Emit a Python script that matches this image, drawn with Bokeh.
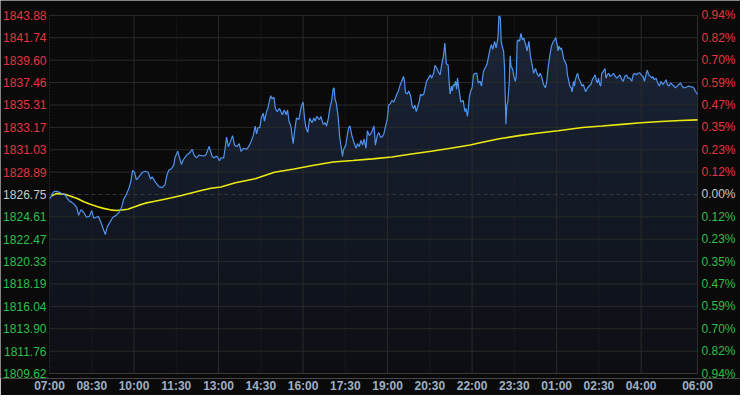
import numpy as np
from bokeh.plotting import figure
from bokeh.models import Range1d, FixedTicker, ColumnDataSource
from bokeh.core.properties import value
from bokeh.embed import file_html
from bokeh.resources import INLINE

prev_close = 1826.75
price_levels = [1843.88, 1841.74, 1839.60, 1837.46, 1835.31, 1833.17, 1831.03, 1828.89, 1826.75,
                1824.61, 1822.47, 1820.33, 1818.19, 1816.04, 1813.90, 1811.76, 1809.62]
price_labels = ["1843.88", "1841.74", "1839.60", "1837.46", "1835.31", "1833.17", "1831.03", "1828.89",
                "1826.75", "1824.61", "1822.47", "1820.33", "1818.19", "1816.04", "1813.90", "1811.76", "1809.62"]
pct_labels = ["0.94%", "0.82%", "0.70%", "0.59%", "0.47%", "0.35%", "0.23%", "0.12%", "0.00%",
              "0.12%", "0.23%", "0.35%", "0.47%", "0.59%", "0.70%", "0.82%", "0.94%"]
time_ticks = [0, 90, 180, 270, 360, 450, 540, 630, 720, 810, 900, 990, 1080, 1170, 1260, 1380]
time_labels = ["07:00", "08:30", "10:00", "11:30", "13:00", "14:30", "16:00", "17:30", "19:00",
               "20:30", "22:00", "23:30", "01:00", "02:30", "04:00", "06:00"]

# minutes after 07:00
minutes = [0, 2, 6, 10, 17, 21, 25, 31, 35, 42, 46, 52, 58, 62, 67, 73, 79, 85, 90, 94, 100, 104, 110, 115,
           119, 123, 129, 135, 142, 148, 154, 158, 162, 169, 173, 177, 181, 185, 190, 198, 204, 210, 215,
           219, 225, 233, 240, 246, 250, 254, 260, 265, 267, 273, 277, 281, 285, 292, 298, 304, 308, 313,
           319, 327, 333, 340, 346, 350, 356, 362,
           365, 371, 374, 377, 381, 385, 390, 394, 399, 404, 408, 413, 420, 424, 429, 434, 438, 441, 444,
           448, 451, 455, 458, 462, 465, 471, 474, 478, 481, 485, 490, 493, 496, 500, 504, 507, 510, 514,
           517, 519, 522, 526, 531, 536, 540, 543, 546, 550, 554, 559, 563, 566, 569, 575, 578, 583, 587,
           590, 594, 597, 601, 604, 606, 608, 611, 615, 618, 621, 624, 626, 631, 634, 637, 640, 644, 649,
           653, 656, 660, 663, 667, 670, 674, 677, 681, 686, 691, 694, 698, 701, 705,
           708, 712, 715, 719, 721, 722, 726, 729, 733, 736, 740, 743, 746, 750, 754, 756, 758, 762, 765,
           769, 772, 775, 778, 781, 785, 788, 790, 793, 797, 800, 803, 807, 811, 814, 818, 821, 825, 828,
           832, 835, 839, 842, 845, 849, 851, 853, 856, 858, 860, 862, 865, 867, 869, 871, 874, 876, 881,
           883, 885, 887, 890, 892, 894, 897, 900, 903, 906, 910, 913, 917, 920, 924, 927, 931, 934, 938,
           941, 944, 948, 951, 955, 957, 960, 962, 964, 967, 969, 971, 972, 974, 976, 979, 981, 983, 986,
           989, 992, 994, 996, 998, 1001, 1004, 1007, 1010, 1014, 1017, 1021, 1024, 1028, 1031, 1035, 1038,
           1042, 1045, 1049,
           1052, 1056, 1059, 1062, 1066, 1069, 1073, 1076, 1078, 1081, 1083, 1085, 1088, 1090, 1092, 1095,
           1097, 1101, 1103, 1106, 1108, 1111, 1113, 1116, 1118, 1120, 1123, 1125, 1127, 1130, 1134, 1137,
           1139, 1142, 1146, 1149, 1153, 1156, 1160, 1162, 1165, 1167, 1169, 1172, 1174, 1176, 1179, 1181,
           1183, 1185, 1188, 1191, 1194, 1198, 1201, 1205, 1208, 1212, 1215, 1219, 1222, 1225, 1229, 1232,
           1236, 1240, 1243, 1246, 1250, 1253, 1257, 1260, 1264, 1267, 1271, 1273, 1276, 1280, 1283, 1285,
           1288, 1292, 1295, 1299, 1302, 1306, 1309, 1313, 1316, 1319, 1323, 1326, 1330, 1333, 1337, 1340,
           1344, 1347, 1351, 1354, 1358, 1361, 1365, 1368, 1372, 1375, 1379, 1380]

price = [1826.45, 1826.40, 1826.86, 1827.04, 1827.04, 1826.95, 1826.86, 1826.77, 1826.59, 1826.13, 1826.04,
         1825.85, 1825.49, 1824.75, 1825.30, 1825.03, 1824.57, 1824.66, 1825.21, 1824.48, 1824.57, 1824.66,
         1824.02, 1823.38, 1822.92, 1823.65, 1824.11, 1824.57, 1824.75, 1825.03, 1825.58, 1826.31, 1826.59,
         1827.32, 1827.96, 1829.06, 1828.88, 1828.14, 1828.42, 1828.88, 1828.97, 1828.88, 1828.23, 1828.42,
         1827.96, 1827.50, 1827.41, 1827.68, 1828.60, 1829.06, 1829.24, 1829.61, 1830.25, 1830.89, 1830.25,
         1829.61, 1830.07, 1830.52, 1830.71, 1831.07, 1830.52, 1830.25, 1830.52, 1830.43, 1830.52, 1831.35,
         1830.43, 1830.25, 1830.43, 1829.97,
         1830.25, 1830.25, 1831.17, 1832.24, 1831.32, 1831.78, 1832.38, 1831.47, 1831.32, 1831.62, 1830.86,
         1831.17, 1831.07, 1831.32, 1831.78, 1832.38, 1833.30, 1832.54, 1833.15, 1833.15, 1834.07, 1834.53,
         1833.76, 1834.67, 1834.98, 1836.20, 1835.90, 1836.05, 1834.98, 1834.67, 1834.98, 1834.67, 1834.37,
         1834.83, 1834.37, 1834.83, 1833.76, 1833.30, 1832.24, 1831.62, 1832.84, 1834.07, 1833.91, 1835.13,
         1835.59, 1834.07, 1833.15, 1832.69, 1834.07, 1833.61, 1834.07, 1833.76, 1834.22, 1833.91, 1834.22,
         1833.46, 1833.61, 1833.30, 1834.07, 1834.98, 1835.75, 1836.82, 1836.96, 1835.90, 1835.44, 1834.07,
         1832.24, 1831.32, 1830.40, 1831.01, 1831.47, 1832.38, 1833.15, 1833.30, 1832.38, 1831.62, 1831.17,
         1831.62, 1831.32, 1831.93, 1831.47, 1832.08, 1831.17, 1832.84, 1832.38, 1832.69, 1833.30, 1831.47,
         1832.38, 1832.69, 1832.24,
         1832.24, 1832.54, 1833.15, 1833.91, 1834.67, 1835.29, 1835.44, 1835.75, 1835.59, 1835.90, 1836.36,
         1836.66, 1837.12, 1837.58, 1838.04, 1837.58, 1836.51, 1836.36, 1836.66, 1836.20, 1835.29, 1834.98,
         1835.29, 1834.67, 1835.29, 1835.75, 1836.36, 1836.20, 1836.36, 1836.96, 1837.58, 1837.88, 1838.19,
         1837.88, 1838.34, 1839.11, 1838.80, 1838.49, 1838.19, 1839.11, 1840.02, 1841.24, 1839.25, 1839.11,
         1837.58, 1836.36, 1837.12, 1836.66, 1837.27, 1837.12, 1837.58, 1836.82, 1837.88, 1837.12, 1836.20,
         1835.59, 1835.75, 1835.13, 1834.67, 1834.98, 1834.22, 1834.98, 1836.05, 1836.66, 1836.96, 1838.19,
         1838.34, 1838.34, 1837.42, 1837.58, 1837.12, 1838.49, 1838.80, 1839.11, 1839.71, 1840.63, 1841.09,
         1840.63, 1841.40, 1840.78, 1841.70, 1843.83, 1843.69, 1841.40, 1840.94, 1840.48, 1838.95, 1835.29,
         1833.46, 1835.29, 1835.59, 1837.42, 1840.02, 1838.95, 1838.80, 1838.04, 1837.58, 1838.04, 1841.40,
         1841.54, 1841.40, 1842.16, 1841.54, 1841.70, 1841.09, 1840.48, 1841.40, 1840.02, 1839.11, 1838.34,
         1838.80, 1838.34, 1838.04, 1838.34, 1837.88,
         1837.27, 1836.96, 1837.58, 1838.95, 1840.17, 1840.94, 1841.40, 1841.54, 1841.76, 1841.09, 1840.48,
         1840.94, 1840.63, 1840.78, 1840.48, 1839.71, 1839.55, 1839.11, 1838.19, 1837.58, 1837.12, 1836.96,
         1836.57, 1837.58, 1837.12, 1837.73, 1838.19, 1838.34, 1837.88, 1837.58, 1837.12, 1837.27, 1836.96,
         1836.57, 1836.96, 1837.12, 1837.27, 1837.73, 1838.04, 1838.19, 1837.58, 1837.42, 1837.88, 1837.27,
         1837.12, 1838.34, 1838.49, 1838.65, 1838.80, 1837.88, 1838.19, 1838.34, 1838.04, 1838.19, 1838.34,
         1838.04, 1837.88, 1838.04, 1838.19, 1837.73, 1837.58, 1838.04, 1838.19, 1837.88, 1837.88, 1837.58,
         1838.19, 1838.34, 1838.19, 1838.34, 1838.40, 1838.19, 1838.04, 1837.58, 1838.34, 1838.65, 1838.19,
         1838.04, 1837.88, 1838.04, 1837.73, 1837.88, 1837.42, 1837.12, 1837.58, 1837.27, 1837.42, 1837.73,
         1837.27, 1837.12, 1837.42, 1837.27, 1837.12, 1836.96, 1837.12, 1837.27, 1837.42, 1837.12, 1836.96,
         1836.96, 1837.05, 1837.12, 1837.05, 1837.05, 1836.96, 1836.66, 1836.41, 1836.32]

avg_minutes = [4, 14, 24, 35, 45, 59, 73, 87, 101, 115, 129, 142, 154, 167, 177, 191, 204, 219, 240, 260,
               281, 302, 323, 344, 365, 396, 438, 479, 521, 563, 604, 646, 688, 729, 771, 813, 854, 896,
               917, 958, 1000, 1042, 1083, 1135, 1177, 1219, 1260, 1302, 1344, 1380]
avg_price = [1826.59, 1826.83, 1826.81, 1826.74, 1826.59, 1826.37, 1826.06, 1825.82, 1825.60, 1825.42,
             1825.28, 1825.21, 1825.26, 1825.33, 1825.51, 1825.73, 1825.92, 1826.06, 1826.25, 1826.43,
             1826.65, 1826.89, 1827.13, 1827.35, 1827.47, 1827.87, 1828.26, 1828.88, 1829.18, 1829.54,
             1829.86, 1830.00, 1830.16, 1830.34, 1830.62, 1830.89, 1831.17, 1831.49, 1831.69, 1832.08,
             1832.38, 1832.63, 1832.84, 1833.15, 1833.30, 1833.46, 1833.61, 1833.73, 1833.82, 1833.89]

BG = "#0a0a0a"
GRID = "#2a2a2a"
RED = "#e8343f"
GREEN = "#2fbf4a"
NEUTRAL = "#c8c8c8"
FONT = "Liberation Sans"

# layout (figure pixels): the frame fills the figure above the time axis;
# the chart area sits inside it so that the price labels can be drawn beside it
W, H, AXIS_H = 740, 395, 15
AREA_L, AREA_R, AREA_T, AREA_B = 49, 697, 15, 375
frame_h = H - AXIS_H

y_lo, y_hi = min(price_levels), max(price_levels)
x_lo, x_hi = time_ticks[0], time_ticks[-1]
px_per_min = (AREA_R - AREA_L) / (x_hi - x_lo)
val_per_px = (y_hi - y_lo) / (AREA_B - AREA_T)
x_range = Range1d(x_lo - AREA_L / px_per_min, x_hi + (W - AREA_R) / px_per_min)
y_range = Range1d(y_lo - (frame_h - AREA_B) * val_per_px, y_hi + AREA_T * val_per_px)

p = figure(width=W, height=H, x_range=x_range, y_range=y_range,
           output_backend="svg", toolbar_location=None, y_axis_location=None,
           background_fill_color=BG, border_fill_color=BG, outline_line_color=None,
           min_border_left=0, min_border_right=0, min_border_top=0, min_border_bottom=AXIS_H)
p.xgrid.visible = False
p.ygrid.visible = False

# time axis
p.xaxis.ticker = FixedTicker(ticks=time_ticks)
p.xaxis.major_label_overrides = {t: lab for t, lab in zip(time_ticks, time_labels)}
p.xaxis.axis_line_color = None
p.xaxis.major_tick_line_color = None
p.xaxis.minor_tick_line_color = None
p.xaxis.major_tick_in = 0
p.xaxis.major_tick_out = 0
p.xaxis.major_label_text_color = "#9fb0c4"
p.xaxis.major_label_text_font = FONT
p.xaxis.major_label_text_font_size = "12px"
p.xaxis.major_label_text_font_style = "bold"
p.xaxis.major_label_standoff = 0

# gradient area fill under the price line
x_arr = np.array(minutes, dtype=float)
p_arr = np.array(price, dtype=float)
n_strips = 32
bounds = np.linspace(y_lo, y_hi, n_strips + 1)
c_bot = np.array([12, 14, 19])
c_top = np.array([27, 38, 58])
for i in range(n_strips - 1, -1, -1):
    f = (i + 0.5) / n_strips
    c = (c_bot + (c_top - c_bot) * f).round().astype(int)
    col = "#%02x%02x%02x" % tuple(c)
    top = np.minimum(p_arr, bounds[i + 1])
    p.varea(x=x_arr, y1=np.full_like(x_arr, y_lo), y2=top, fill_color=col, level="underlay")

# grid lines
h_solid = [v for v in price_levels if v != prev_close]
p.segment(x0=[x_lo] * len(h_solid), x1=[x_hi] * len(h_solid), y0=h_solid, y1=h_solid,
          line_color=GRID, line_width=1, level="underlay")
p.segment(x0=[x_lo], x1=[x_hi], y0=[prev_close], y1=[prev_close], line_color="#383838",
          line_dash="4 3", line_width=1, level="underlay")
solid_v = [t for t in time_ticks if t % 180 == 0 and x_lo < t < x_hi]
dotted_v = [t for t in time_ticks if t % 180 == 90]
p.segment(x0=solid_v, x1=solid_v, y0=[y_lo] * len(solid_v), y1=[y_hi] * len(solid_v),
          line_color=GRID, line_width=1, level="underlay")
p.segment(x0=dotted_v, x1=dotted_v, y0=[y_lo] * len(dotted_v), y1=[y_hi] * len(dotted_v),
          line_color=GRID, line_dash="1 2", line_width=1, level="underlay")
p.segment(x0=[x_lo], x1=[x_lo], y0=[y_lo], y1=[y_hi], line_color="#3a3a3a", line_dash="1 2", level="underlay")
p.segment(x0=[x_hi], x1=[x_hi], y0=[y_lo], y1=[y_hi], line_color="#2e2e2e", level="underlay")
p.segment(x0=[x_lo], x1=[x_hi], y0=[y_lo], y1=[y_lo], line_color="#3a3a3a", level="underlay")

# price lines
p.line(avg_minutes, avg_price, line_color="#eaea12", line_width=1.6)
p.line(minutes, price, line_color="#4f93ee", line_width=1.2)

# coloured price (left) and percent (right) labels
colors = [RED if v > prev_close else (GREEN if v < prev_close else NEUTRAL) for v in price_levels]
left_src = ColumnDataSource(dict(x=[x_lo] * len(price_levels), y=price_levels, text=price_labels, color=colors))
right_src = ColumnDataSource(dict(x=[x_hi] * len(price_levels), y=price_levels, text=pct_labels, color=colors))
p.text(x="x", y="y", text="text", source=left_src, x_offset=-3, text_align="right",
       text_baseline="middle", text_color="color", text_font=value(FONT), text_font_size=value("12px"))
p.text(x="x", y="y", text="text", source=right_src, x_offset=4, text_align="left",
       text_baseline="middle", text_color="color", text_font=value(FONT), text_font_size=value("12px"))

open("out.html", "w").write(file_html(p, INLINE))
